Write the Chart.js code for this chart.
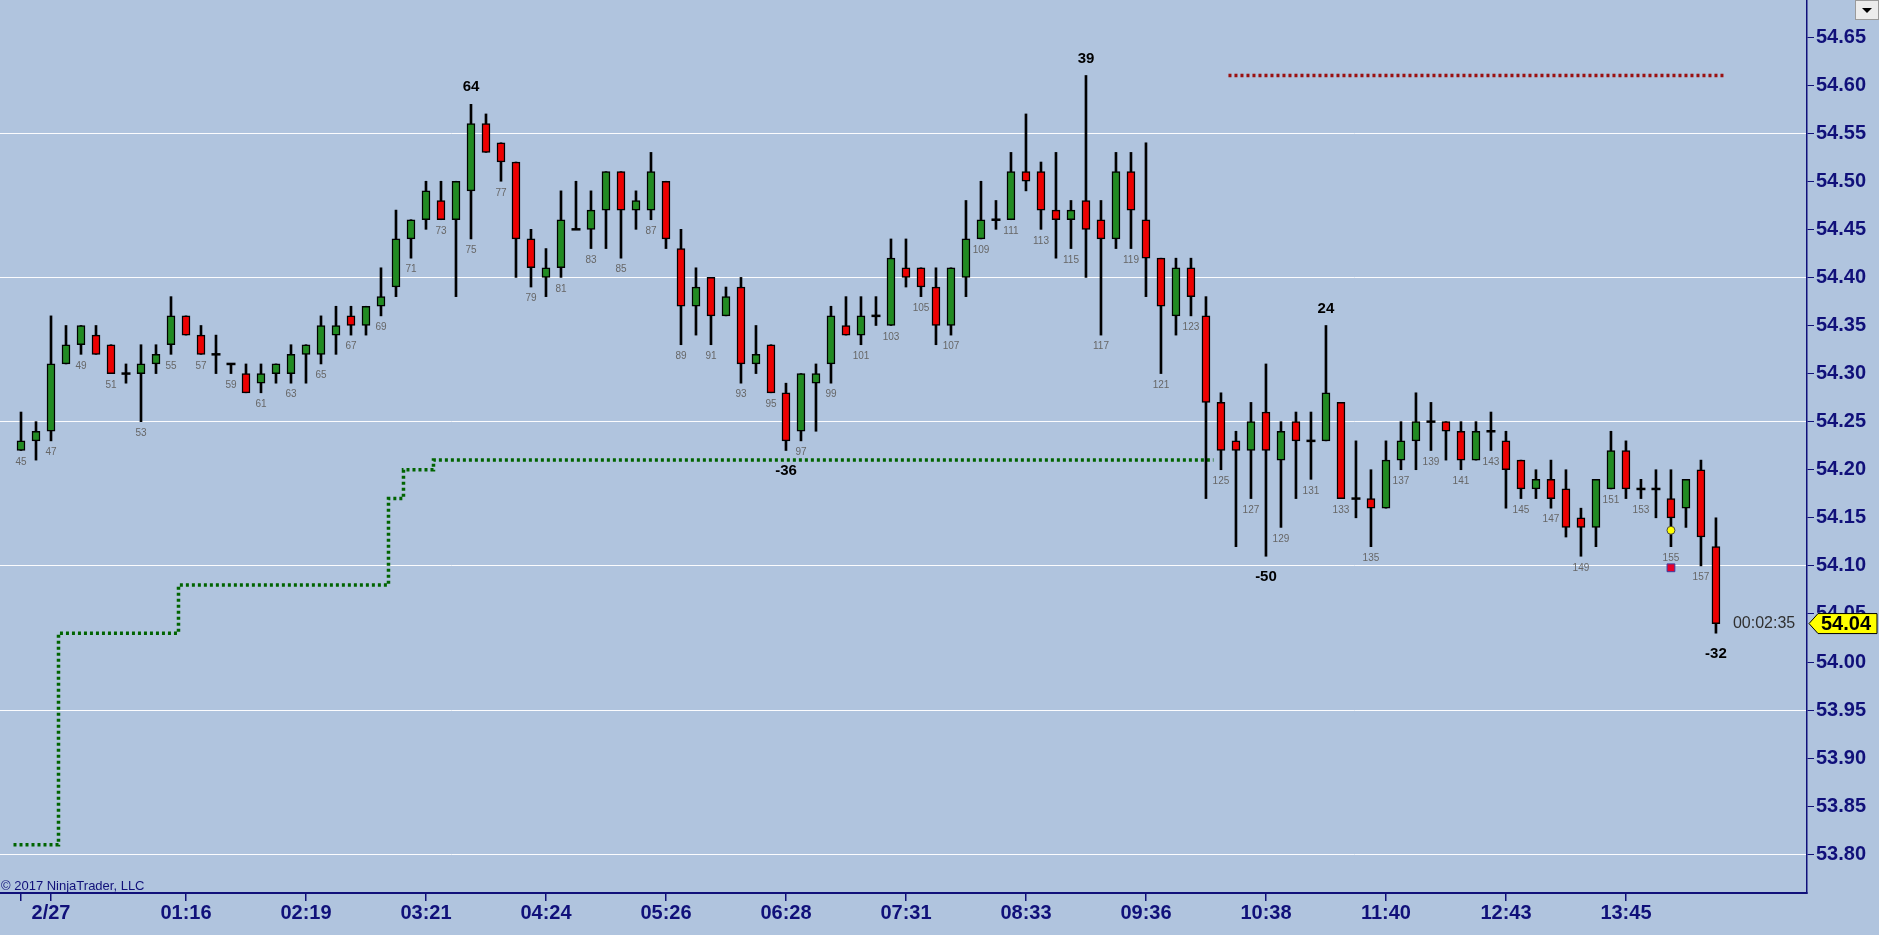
<!DOCTYPE html>
<html>
<head>
<meta charset="utf-8">
<title>NinjaTrader candle chart</title>
<script src="https://cdn.jsdelivr.net/npm/chart.js@4.4.1/dist/chart.umd.min.js"></script>
<style>
  html, body { margin: 0; padding: 0; background: #b0c4de; overflow: hidden; }
  #wrap { position: relative; width: 1879px; height: 935px; }
</style>
</head>
<body>
<div id="wrap"><canvas id="chart" width="1879" height="935"></canvas></div>
<script>
// --- data ---
const firstBar = 45;
const opens  = [54.22,54.23,54.24,54.31,54.33,54.34,54.33,54.30,54.30,54.31,54.33,54.36,54.34,54.32,54.31,54.30,54.29,54.30,54.30,54.32,
                54.32,54.34,54.36,54.35,54.37,54.39,54.44,54.46,54.48,54.46,54.49,54.56,54.54,54.52,54.44,54.40,54.41,54.45,54.45,54.47,
                54.51,54.47,54.47,54.50,54.43,54.37,54.40,54.36,54.39,54.31,54.33,54.28,54.24,54.29,54.31,54.35,54.34,54.36,54.35,54.41,
                54.41,54.39,54.35,54.40,54.44,54.46,54.46,54.51,54.51,54.47,54.46,54.48,54.46,54.44,54.51,54.46,54.42,54.36,54.41,54.36,
                54.27,54.23,54.22,54.26,54.21,54.25,54.23,54.23,54.27,54.17,54.17,54.16,54.21,54.23,54.25,54.25,54.24,54.21,54.24,54.23,
                54.21,54.18,54.19,54.18,54.15,54.14,54.18,54.22,54.18,54.18,54.17,54.16,54.20,54.12];
const highs  = [54.26,54.25,54.36,54.35,54.35,54.35,54.33,54.31,54.33,54.33,54.38,54.36,54.35,54.34,54.31,54.31,54.31,54.31,54.33,54.33,
                54.36,54.37,54.37,54.37,54.41,54.47,54.46,54.50,54.50,54.50,54.58,54.57,54.54,54.52,54.45,54.43,54.49,54.50,54.49,54.51,
                54.51,54.49,54.53,54.50,54.45,54.41,54.40,54.39,54.40,54.35,54.33,54.29,54.30,54.31,54.37,54.38,54.38,54.38,54.44,54.44,
                54.41,54.41,54.41,54.48,54.50,54.48,54.53,54.57,54.52,54.53,54.48,54.61,54.48,54.53,54.53,54.54,54.42,54.42,54.42,54.38,
                54.28,54.24,54.27,54.31,54.25,54.26,54.26,54.35,54.27,54.23,54.20,54.23,54.25,54.28,54.27,54.25,54.25,54.25,54.26,54.24,
                54.21,54.20,54.21,54.20,54.16,54.19,54.24,54.23,54.19,54.20,54.20,54.19,54.21,54.15];
const lows   = [54.22,54.21,54.23,54.31,54.32,54.32,54.30,54.29,54.25,54.30,54.32,54.34,54.32,54.30,54.30,54.28,54.28,54.29,54.29,54.29,
                54.31,54.32,54.34,54.34,54.36,54.38,54.42,54.45,54.46,54.38,54.44,54.53,54.50,54.40,54.39,54.38,54.40,54.45,54.43,54.43,
                54.42,54.45,54.46,54.43,54.33,54.34,54.33,54.36,54.29,54.30,54.28,54.22,54.23,54.24,54.29,54.34,54.33,54.35,54.35,54.39,
                54.38,54.33,54.34,54.38,54.44,54.45,54.46,54.49,54.45,54.42,54.43,54.40,54.34,54.43,54.43,54.38,54.30,54.34,54.36,54.17,
                54.20,54.12,54.17,54.11,54.14,54.17,54.19,54.23,54.17,54.15,54.12,54.16,54.20,54.20,54.22,54.21,54.20,54.21,54.22,54.16,
                54.17,54.17,54.16,54.13,54.11,54.12,54.18,54.17,54.17,54.15,54.12,54.14,54.10,54.03];
const closes = [54.23,54.24,54.31,54.33,54.35,54.32,54.30,54.30,54.31,54.32,54.36,54.34,54.32,54.32,54.31,54.28,54.30,54.31,54.32,54.33,
                54.35,54.35,54.35,54.37,54.38,54.44,54.46,54.49,54.46,54.50,54.56,54.53,54.52,54.44,54.41,54.41,54.46,54.45,54.47,54.51,
                54.47,54.48,54.51,54.44,54.37,54.39,54.36,54.38,54.31,54.32,54.28,54.23,54.30,54.30,54.36,54.34,54.36,54.36,54.42,54.40,
                54.39,54.35,54.41,54.44,54.46,54.46,54.51,54.50,54.47,54.46,54.47,54.45,54.44,54.51,54.47,54.42,54.37,54.41,54.38,54.27,
                54.22,54.22,54.25,54.22,54.24,54.23,54.23,54.28,54.17,54.17,54.16,54.21,54.23,54.25,54.25,54.24,54.21,54.24,54.24,54.20,
                54.18,54.19,54.17,54.14,54.14,54.19,54.22,54.18,54.18,54.18,54.15,54.19,54.13,54.04];

// stepped stop line (green) and target line (red)
const stopX = [44.5, 47.5, 55.5, 69.5, 70.5, 72.5, 124.5];
const stopY = [53.81, 54.03, 54.08, 54.17, 54.20, 54.21, 54.21];
const targetX = [125.5, 158.5];
const targetY = [54.61, 54.61];

// swing high / low labels
const swingBars = [75, 96, 116, 128, 132, 158];
const swingText = ['64', '-36', '39', '-50', '24', '-32'];
const swingSide = ['high', 'low', 'high', 'low', 'high', 'low'];

// markers on bar 155
const markerBar = 155;
const dotValue = 54.137;
const squareValue = 54.098;

// axes
const xTickBars = [45, 47, 56, 64, 72, 80, 88, 96, 104, 112, 120, 128, 136, 144, 152];
const xTickLabels = ['', '2/27', '01:16', '02:19', '03:21', '04:24', '05:26', '06:28', '07:31', '08:33', '09:36', '10:38', '11:40', '12:43', '13:45'];
const yTicks = [53.80, 53.85, 53.90, 53.95, 54.00, 54.05, 54.10, 54.15, 54.20, 54.25, 54.30, 54.35, 54.40, 54.45, 54.50, 54.55, 54.60, 54.65];
const yGridLines = [53.80, 53.95, 54.10, 54.25, 54.40, 54.55];
const countdown = '00:02:35';

const NAVY = '#10107a';
const UP = '#228b22';
const DOWN = '#ee0000';
const bars = opens.map((o, i) => firstBar + i);

// --- build datasets ---
const wickData = bars.map((b, i) => ({ x: b, y: [lows[i], highs[i]] }));
const bodyData = [];
const dojiData = [];
bars.forEach((b, i) => {
    if (opens[i] === closes[i]) dojiData.push({ x: b, y: closes[i] });
    else bodyData.push({ x: b, y: [opens[i], closes[i]] });
});

const bgPlugin = {
    id: 'bg',
    beforeDraw(chart) {
        const c = chart.ctx;
        c.save();
        c.fillStyle = '#b0c4de';
        c.fillRect(0, 0, chart.width, chart.height);
        c.restore();
    }
};

const labelPlugin = {
    id: 'labels',
    afterDatasetsDraw(chart) {
        const c = chart.ctx;
        const xs = chart.scales.x, ys = chart.scales.y;
        c.save();
        c.textAlign = 'center';
        c.textBaseline = 'middle';

        // bar numbers under every odd bar
        c.font = '10px "Liberation Sans Narrow", "Liberation Sans", Arial, sans-serif';
        c.fillStyle = '#666666';
        bars.forEach((b, i) => {
            if (b % 2 === 1) c.fillText(String(b), xs.getPixelForValue(b), ys.getPixelForValue(lows[i]) + 11.5);
        });

        // swing labels
        c.font = 'bold 15px "Liberation Sans", Arial, sans-serif';
        c.fillStyle = '#000';
        swingBars.forEach((b, k) => {
            const i = b - firstBar;
            const y = swingSide[k] === 'high' ? ys.getPixelForValue(highs[i]) - 17 : ys.getPixelForValue(lows[i]) + 20.5;
            c.fillText(swingText[k], xs.getPixelForValue(b), y);
        });

        // countdown next to the last bar
        const last = bars.length - 1;
        const yLast = ys.getPixelForValue(closes[last]);
        c.font = '16px "Liberation Sans", Arial, sans-serif';
        c.fillStyle = '#303030';
        c.textAlign = 'left';
        c.fillText(countdown, xs.getPixelForValue(bars[last]) + 17, yLast);

        // yellow last-price marker on the axis
        const x0 = chart.chartArea.right;
        c.beginPath();
        c.moveTo(x0 + 2, yLast);
        c.lineTo(x0 + 11, yLast - 10);
        c.lineTo(x0 + 70, yLast - 10);
        c.lineTo(x0 + 70, yLast + 10);
        c.lineTo(x0 + 11, yLast + 10);
        c.closePath();
        c.fillStyle = '#ffff00';
        c.fill();
        c.strokeStyle = '#000';
        c.lineWidth = 1;
        c.stroke();
        c.font = 'bold 20px "Liberation Sans", Arial, sans-serif';
        c.fillStyle = '#000';
        c.fillText(closes[last].toFixed(2), x0 + 14, yLast + 1);

        // copyright
        c.font = '13px "Liberation Sans", Arial, sans-serif';
        c.fillStyle = NAVY;
        c.fillText('\u00a9 2017 NinjaTrader, LLC', 1, 886);

        // little dropdown button top right
        c.fillStyle = '#ececec';
        c.fillRect(chart.width - 24, 0, 24, 20);
        c.strokeStyle = '#9a9a9a';
        c.strokeRect(chart.width - 23.5, 0.5, 23, 19);
        c.beginPath();
        c.moveTo(chart.width - 17, 8);
        c.lineTo(chart.width - 7, 8);
        c.lineTo(chart.width - 12, 13);
        c.closePath();
        c.fillStyle = '#000';
        c.fill();
        c.restore();
    }
};

const ctx = document.getElementById('chart').getContext('2d');
const myChart = new Chart(ctx, {
    type: 'bar',
    data: {
        datasets: [
            {
                type: 'line', label: 'stop', order: 6,
                data: stopX.map((x, i) => ({ x: x, y: stopY[i] })),
                borderColor: '#006400', borderWidth: 3.5, borderDash: [3, 3],
                stepped: 'before', pointRadius: 0, fill: false
            },
            {
                type: 'line', label: 'target', order: 5,
                data: targetX.map((x, i) => ({ x: x, y: targetY[i] })),
                borderColor: '#9b1111', borderWidth: 3.5, borderDash: [3, 3],
                pointRadius: 0, fill: false
            },
            {
                label: 'wick', order: 4, data: wickData,
                backgroundColor: '#000', barThickness: 2, grouped: false
            },
            {
                label: 'body', order: 3, data: bodyData,
                backgroundColor: (c) => (c.raw && c.raw.y[1] > c.raw.y[0]) ? UP : DOWN,
                borderColor: '#000', borderWidth: 1.5, borderSkipped: false,
                barThickness: 8, grouped: false
            },
            {
                type: 'scatter', label: 'doji', order: 2, data: dojiData,
                pointStyle: 'line', pointRadius: 4.5, borderColor: '#000', borderWidth: 2.5
            },
            {
                type: 'scatter', label: 'dot', order: 1,
                data: [{ x: markerBar, y: dotValue }],
                pointStyle: 'circle', pointRadius: 4, backgroundColor: '#ffff00', borderColor: '#444', borderWidth: 1
            },
            {
                type: 'scatter', label: 'square', order: 1,
                data: [{ x: markerBar, y: squareValue }],
                pointStyle: 'rect', pointRadius: 5.5, backgroundColor: '#e8002a', borderColor: '#3a3aa0', borderWidth: 1
            }
        ]
    },
    options: {
        responsive: false,
        animation: false,
        devicePixelRatio: 1,
        layout: { padding: 0, autoPadding: false },
        plugins: { legend: { display: false }, tooltip: { enabled: false } },
        scales: {
            x: {
                type: 'linear', min: 43.6, max: 164.07, bounds: 'data', offset: false,
                afterBuildTicks: (s) => { s.ticks = xTickBars.map(v => ({ value: v })); },
                afterFit: (s) => { s.height = 42; s.paddingLeft = 0; s.paddingRight = 0; },
                ticks: {
                    autoSkip: false, maxRotation: 0, padding: 0, color: NAVY,
                    font: { family: '"Liberation Sans", Arial, sans-serif', size: 20, weight: 'bold' },
                    callback: (v) => xTickLabels[xTickBars.indexOf(v)] || ''
                },
                grid: { drawOnChartArea: false, offset: false, tickLength: 8, color: NAVY, lineWidth: 1.5 },
                border: { display: true, color: NAVY, width: 2 }
            },
            y: {
                type: 'linear', position: 'right', min: 53.7598, max: 54.6885, bounds: 'data',
                afterBuildTicks: (s) => { s.ticks = yTicks.map(v => ({ value: v })); },
                afterFit: (s) => { s.width = 72; s.paddingTop = 0; s.paddingBottom = 0; },
                ticks: {
                    autoSkip: false, padding: 2, color: NAVY,
                    font: { family: '"Liberation Sans", Arial, sans-serif', size: 20, weight: 'bold' },
                    callback: (v) => v.toFixed(2)
                },
                grid: {
                    color: (c) => (c.tick && yGridLines.some(g => Math.abs(g - c.tick.value) < 1e-6)) ? 'rgba(255,255,255,0.95)' : 'rgba(0,0,0,0)',
                    tickColor: NAVY, tickLength: 7, lineWidth: 1
                },
                border: { display: true, color: NAVY, width: 1.5 }
            }
        }
    },
    plugins: [bgPlugin, labelPlugin]
});
</script>
</body>
</html>
